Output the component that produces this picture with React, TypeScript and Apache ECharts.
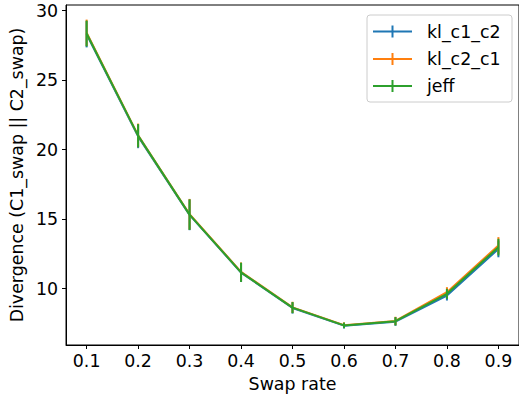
import React, { useEffect, useRef } from "react";
import * as echarts from "echarts";

const swapRates = [0.1, 0.2, 0.3, 0.4, 0.5, 0.6, 0.7, 0.8, 0.9];
const klC1C2 = [28.3, 20.95, 15.3, 11.15, 8.6, 7.33, 7.62, 9.5, 12.85];
const klC2C1 = [28.4, 21.02, 15.35, 11.2, 8.65, 7.37, 7.67, 9.74, 13.1];
const jeff = [28.35, 21.0, 15.32, 11.17, 8.63, 7.35, 7.65, 9.62, 12.98];
const errC1C2 = [0.95, 0.85, 1.1, 0.68, 0.4, 0.2, 0.3, 0.36, 0.6];
const errC2C1 = [0.95, 0.85, 1.1, 0.68, 0.4, 0.2, 0.3, 0.36, 0.6];
const errJeff = [0.93, 0.83, 1.1, 0.69, 0.4, 0.2, 0.3, 0.36, 0.6];
const seriesNames = ["kl_c1_c2", "kl_c2_c1", "jeff"];
const colors = ["#1f77b4", "#ff7f0e", "#2ca02c"];
const xTicks = [0.1, 0.2, 0.3, 0.4, 0.5, 0.6, 0.7, 0.8, 0.9];
const yTicks = [10, 15, 20, 25, 30];

const FONT = "DejaVu Sans";
const FS = 17.4;

export default function App() {
  const ref = useRef<HTMLDivElement>(null);
  useEffect(() => {
    document.body.style.margin = "0";
    if (!ref.current) return;
    const chart = echarts.init(ref.current, undefined, { renderer: "svg" });
    const vals = [klC1C2, klC2C1, jeff];
    const errs = [errC1C2, errC2C1, errJeff];
    const series: any[] = [];
    vals.forEach((v, i) => {
      series.push({
        name: seriesNames[i],
        type: "line",
        data: swapRates.map((x, j) => [x, v[j]]),
        symbol: "none",
        lineStyle: { color: colors[i], width: 2 },
        z: 2 + i * 2,
      });
      series.push({
        name: seriesNames[i] + "_err",
        type: "custom",
        data: swapRates.map((x, j) => [x, v[j] - errs[i][j], v[j] + errs[i][j]]),
        encode: { x: 0, y: [1, 2] },
        z: 3 + i * 2,
        renderItem: (params: any, api: any) => {
          const lo = api.coord([api.value(0), api.value(1)]);
          const hi = api.coord([api.value(0), api.value(2)]);
          return {
            type: "line",
            shape: { x1: lo[0], y1: lo[1], x2: hi[0], y2: hi[1] },
            style: { stroke: colors[i], lineWidth: 2 },
          };
        },
      });
    });

    const legendX = 367;
    const legendY = 15;
    const rowYs = [31.5, 59, 86];
    const legendChildren: any[] = [
      {
        type: "rect",
        shape: { x: legendX, y: legendY, width: 145, height: 87, r: 3 },
        style: { fill: "rgba(255,255,255,0.8)", stroke: "#cccccc", lineWidth: 1 },
      },
    ];
    seriesNames.forEach((n, i) => {
      const y = rowYs[i];
      legendChildren.push({
        type: "line",
        shape: { x1: 373, y1: y, x2: 412, y2: y },
        style: { stroke: colors[i], lineWidth: 2 },
      });
      legendChildren.push({
        type: "line",
        shape: { x1: 392.5, y1: y - 6, x2: 392.5, y2: y + 6 },
        style: { stroke: colors[i], lineWidth: 2 },
      });
      legendChildren.push({
        type: "text",
        x: 427,
        y: y,
        style: {
          text: n,
          fill: "#000",
          font: `${FS}px "${FONT}"`,
          verticalAlign: "middle",
          align: "left",
        },
      });
    });

    chart.setOption({
      animation: false,
      backgroundColor: "#fff",
      textStyle: { fontFamily: FONT },
      grid: {
        left: 64,
        top: 5,
        right: -3,
        bottom: 50,
        show: true,
        borderColor: "#000",
        borderWidth: 1,
        containLabel: false,
      },
      xAxis: {
        type: "value",
        min: 0.06,
        max: 0.94,
        name: "Swap rate",
        nameLocation: "middle",
        nameGap: 30,
        nameTextStyle: { fontSize: FS, color: "#000", fontFamily: FONT },
        axisLine: { show: true, lineStyle: { color: "#000", width: 1 } },
        axisTick: {
          show: true,
          length: 4,
          inside: false,
          customValues: xTicks,
          lineStyle: { color: "#000" },
        },
        axisLabel: {
          customValues: xTicks,
          fontSize: FS,
          color: "#000",
          fontFamily: FONT,
          margin: 7,
          formatter: (v: number) => v.toFixed(1),
        },
        splitLine: { show: false },
      },
      yAxis: {
        type: "value",
        min: 5.94,
        max: 30.4,
        name: "Divergence (C1_swap || C2_swap)",
        nameLocation: "middle",
        nameGap: 39,
        nameRotate: 90,
        nameTextStyle: { fontSize: FS, color: "#000", fontFamily: FONT },
        axisLine: { show: true, lineStyle: { color: "#000", width: 1 } },
        axisTick: {
          show: true,
          length: 4,
          inside: false,
          customValues: yTicks,
          lineStyle: { color: "#000" },
        },
        axisLabel: {
          customValues: yTicks,
          fontSize: FS,
          color: "#000",
          fontFamily: FONT,
          margin: 8,
        },
        splitLine: { show: false },
      },
      series,
      graphic: [{ type: "group", z: 100, children: legendChildren }],
    });
    return () => chart.dispose();
  }, []);
  return <div ref={ref} style={{ width: 519, height: 397 }} />;
}
